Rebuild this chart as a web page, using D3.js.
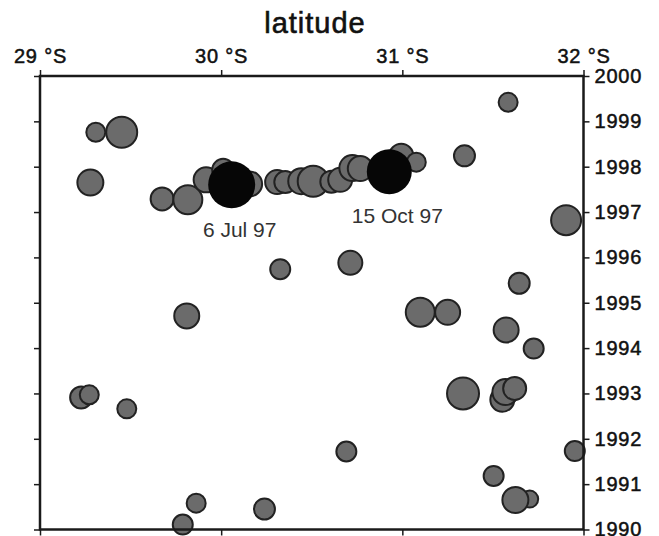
<!DOCTYPE html>
<html>
<head>
<meta charset="utf-8">
<script src="https://cdn.jsdelivr.net/npm/d3@7"></script>
<style>
  body { margin: 0; background: #fff; }
  svg { display: block; font-family: "Liberation Sans", Arial, Helvetica, sans-serif; }
</style>
</head>
<body>
<div id="chart"></div>
<script>
// background events: latitude (deg S), decimal year, magnitude
var lat = [29.308, 29.451, 29.278, 29.674, 29.816, 29.917, 30.011, 30.157,
  30.309, 30.354, 30.442, 30.508, 30.608, 30.657, 30.724, 30.768,
  30.994, 31.077, 31.343, 31.584, 31.904, 30.713, 30.326, 29.810,
  29.227, 29.272, 29.479, 29.862, 29.788, 30.239, 31.645, 31.099,
  31.250, 31.573, 31.725, 31.335, 31.552, 31.569, 31.620, 31.952,
  30.691, 31.504, 31.703, 31.624]
var year = [1998.76, 1998.76, 1997.65, 1997.29, 1997.27, 1997.71, 1997.93, 1997.62,
  1997.66, 1997.66, 1997.68, 1997.68, 1997.67, 1997.71, 1997.97, 1997.96,
  1998.24, 1998.10, 1998.24, 1999.42, 1996.82, 1995.88, 1995.74, 1994.71,
  1992.91, 1992.97, 1992.66, 1990.58, 1990.11, 1990.45, 1995.43, 1994.79,
  1994.79, 1994.40, 1993.99, 1993.00, 1992.86, 1993.03, 1993.11, 1991.73,
  1991.72, 1991.18, 1990.67, 1990.65]
var mag = [4.3, 5.5, 5.0, 4.7, 5.3, 4.9, 4.6, 4.9,
  4.8, 4.6, 5.0, 5.5, 4.6, 4.8, 5.0, 4.9,
  4.8, 4.3, 4.5, 4.3, 5.4, 4.8, 4.4, 4.9,
  4.6, 4.3, 4.3, 4.3, 4.4, 4.5, 4.5, 5.3,
  4.9, 4.9, 4.4, 5.6, 4.8, 5.0, 4.7, 4.4,
  4.4, 4.4, 4.1, 5.0]

// main shocks
var mainLat = [30.058, 30.928]
var mainYear = [1997.60, 1997.89]
var mainMag = [7.1, 6.9]
var mainLabel = ["6 Jul 97", "15 Oct 97"]

var latTicks = [29, 30, 31, 32]
var yearTicks = d3.range(1990, 2001)

var margin = {top: 76, right: 75.5, bottom: 6.5, left: 40}
var W = 659, H = 536
var width = W - margin.left - margin.right
var height = H - margin.top - margin.bottom

var svg = d3.select("#chart").append("svg")
  .attr("width", W)
  .attr("height", H)

var g = svg.append("g")
  .attr("transform", "translate(" + margin.left + "," + margin.top + ")")

var x = d3.scaleLinear().domain([29, 32]).range([0, width])
var y = d3.scaleLinear().domain([1990, 2000]).range([height, 0])
var r = d3.scaleLinear().domain([4, 7]).range([8, 23])

var quakes = lat.map(function(d, i) {
  return {lat: d, year: year[i], mag: mag[i]}
})
var mains = mainLat.map(function(d, i) {
  return {lat: d, year: mainYear[i], mag: mainMag[i], label: mainLabel[i]}
})

g.selectAll(".quake")
  .data(quakes)
  .enter()
  .append("circle")
  .attr("class", "quake")
  .attr("cx", d => x(d.lat))
  .attr("cy", d => y(d.year))
  .attr("r", d => r(d.mag))
  .style("fill", "#6b6b6b")
  .style("stroke", "#222")
  .style("stroke-width", 2)

g.selectAll(".main")
  .data(mains)
  .enter()
  .append("circle")
  .attr("class", "main")
  .attr("cx", d => x(d.lat))
  .attr("cy", d => y(d.year))
  .attr("r", d => r(d.mag))
  .style("fill", "#060606")

g.selectAll(".mainlabel")
  .data(mains)
  .enter()
  .append("text")
  .attr("class", "mainlabel")
  .attr("x", d => x(d.lat) + 8)
  .attr("y", d => y(d.year) + r(d.mag) + 28.5)
  .attr("text-anchor", "middle")
  .style("font-size", "21px")
  .style("fill", "#333")
  .text(d => d.label)

// axes
let axTop = g.append("g")
  .call(d3.axisTop(x).tickValues(latTicks).tickSize(6).tickPadding(7)
    .tickFormat(d => d + " °S"))
let axBottom = g.append("g")
  .attr("transform", "translate(0," + height + ")")
  .call(d3.axisBottom(x).tickValues(latTicks).tickSize(6).tickFormat(""))
let axLeft = g.append("g")
  .call(d3.axisLeft(y).tickValues(yearTicks).tickSize(6).tickFormat(""))
let axRight = g.append("g")
  .attr("transform", "translate(" + width + ",0)")
  .call(d3.axisRight(y).tickValues(yearTicks).tickSize(6).tickPadding(5)
    .tickFormat(d3.format("d")))

;[axTop, axBottom, axLeft, axRight].forEach(function(a) {
  a.select(".domain").remove()
  a.selectAll("line").style("stroke", "#1a1a1a").style("stroke-width", 1.5)
  a.selectAll("text")
    .style("font-size", "20px")
    .style("font-family", "'Liberation Sans', Arial, Helvetica, sans-serif")
    .style("letter-spacing", "0.8px")
    .style("fill", "#111")
    .style("stroke", "#111")
    .style("stroke-width", 0.5)
})

g.append("rect")
  .attr("x", 0)
  .attr("y", 0)
  .attr("width", width)
  .attr("height", height)
  .style("fill", "none")
  .style("stroke", "#1a1a1a")
  .style("stroke-width", 2.5)

svg.append("text")
  .attr("x", 315)
  .attr("y", 33)
  .attr("text-anchor", "middle")
  .style("font-size", "29px")
  .style("letter-spacing", "1px")
  .style("fill", "#111")
  .style("stroke", "#111")
  .style("stroke-width", 0.6)
  .text("latitude")
</script>
</body>
</html>
